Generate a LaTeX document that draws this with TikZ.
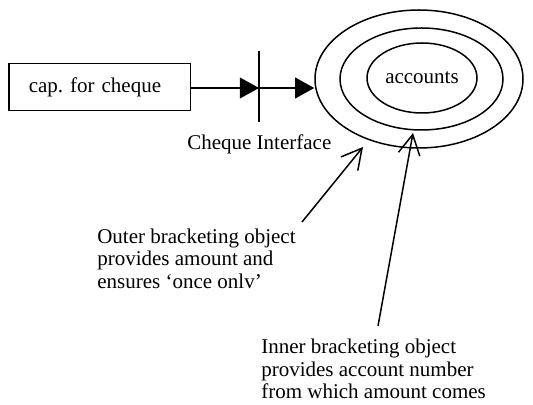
\documentclass[tikz,border=0pt]{standalone}
\usepackage{fontspec}
\setmainfont{Liberation Serif}
\usetikzlibrary{arrows.meta,shapes.geometric}
\frenchspacing
\begin{document}
\begin{tikzpicture}[x=0.6pt,y=-0.6pt,
  every node/.style={font=\fontsize{12.6}{13.5}\selectfont},
  line/.style={line width=0.9pt},
  flow/.style={line, -{Triangle[length=11.5pt,width=12.5pt]}},
  callout/.style={line, -{Straight Barb[length=12pt,width=13pt]}},
  ring/.style={ellipse, draw, line width=0.9pt, inner sep=0pt},
  note/.style={align=left, inner sep=0pt, anchor=north west}]
\useasboundingbox (0,0) rectangle (533,405);

% capability box
\node[draw, line width=0.9pt, anchor=west, minimum height=28.2pt,
      text width=85.2pt, inner xsep=12pt, align=left] (cap) at (8,87) {\frenchspacing cap. for cheque};

% interface bar
\coordinate (bar) at (259,88);
\coordinate (bartop) at (259,51);
\coordinate (barbot) at (259,122);
\draw[line width=1.6pt] (bartop) -- (barbot);
\node[anchor=base west, inner sep=0pt] (iface) at (187,150) {Cheque Interface};

% bracketed object
\node[ring, minimum width=124.8pt, minimum height=82.8pt] (outer) at (419,79) {};
\node[ring, minimum width=97.8pt, minimum height=61.2pt] (middle) at (421.5,79) {};
\node[ring, minimum width=66pt, minimum height=42pt] (inner) at (422,78) {accounts};

% flow through the interface
\draw[flow] (cap.east |- bar) -- (bar);
\draw[flow] (bar) -- (outer.west |- bar);

% annotations
\node[note] (outnote) at (97,228.5) {Outer bracketing object\\provides amount and\\ensures ‘once onlv’};
\node[note] (innote) at (261,339) {Inner bracketing object\\provides account number\\from which amount comes};

\coordinate (outstart) at (302,222);
\coordinate (outtip) at (363,147);
\coordinate (instart) at (378,326);
\coordinate (intip) at (413,133);
\draw[callout] (outstart) -- (outtip);
\draw[callout] (instart) -- (intip);
\end{tikzpicture}
\end{document}
